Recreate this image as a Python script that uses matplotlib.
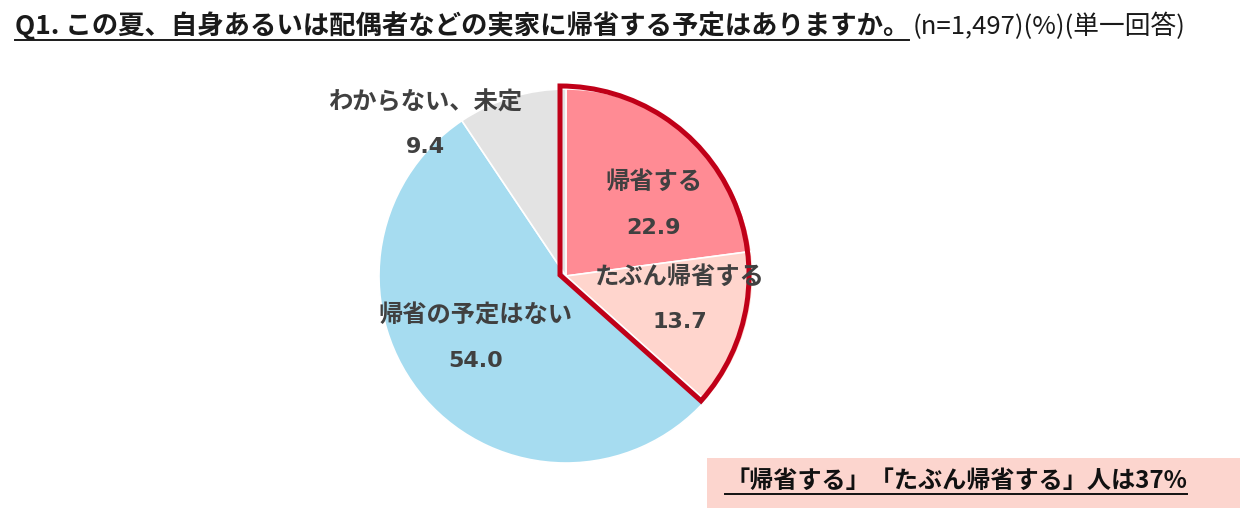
import matplotlib.pyplot as plt
from matplotlib.patches import Wedge, Rectangle

plt.rcParams['font.family'] = ['Noto Sans CJK JP', 'DejaVu Sans']

# Data
labels = ["帰省する", "たぶん帰省する", "帰省の予定はない", "わからない、未定"]
values = [22.9, 13.7, 54.0, 9.4]
colors = ["#FF8B94", "#FFD5CD", "#A6DCF0", "#E3E3E3"]
title_main = "Q1. この夏、自身あるいは配偶者などの実家に帰省する予定はありますか。"
title_sub = "(n=1,497)(%)(単一回答)"
note = "「帰省する」「たぶん帰省する」人は37%"

W, H = 1246, 520
fig = plt.figure(figsize=(W / 100, H / 100), dpi=100)
ax = fig.add_axes([0, 0, 1, 1])

# pie (pixel coords, y measured from top)
cx, cy, r = 566, 276, 187
ax.pie(values, colors=colors, startangle=90, counterclock=False,
       center=(cx, H - cy), radius=r, frame=True,
       wedgeprops=dict(edgecolor="white", linewidth=1.2))
ax.set_xlim(0, W)
ax.set_ylim(0, H)
ax.set_aspect("equal")
ax.axis("off")

# red outline around the two "帰省" slices
span = 360 * (values[0] + values[1]) / sum(values)
ax.add_patch(Wedge((560, H - 275), 189, 90 - span, 90, fill=False,
                   edgecolor="#C00018", linewidth=3.6, joinstyle="miter", zorder=5))

# slice labels
label_pos = [(654, 182, 228), (680, 277, 322), (476, 316, 361), (425, 103, 147)]
for lab, val, (x, y1, y2) in zip(labels, values, label_pos):
    ax.text(x, H - y1, lab, ha="center", va="center", fontsize=17.5, fontweight="bold",
            color="#404040", zorder=6)
    ax.text(x, H - y2, f"{val:.1f}", ha="center", va="center", fontsize=16,
            fontweight="bold", color="#404040", family="DejaVu Sans", zorder=6)

# title
t1 = ax.text(15, H - 26, title_main, ha="left", va="center", fontsize=19,
             fontweight="bold", color="#1a1a1a")
fig.canvas.draw()
bb = t1.get_window_extent().transformed(ax.transData.inverted())
ax.plot([bb.x0, bb.x1], [H - 40, H - 40], color="#1a1a1a", linewidth=1.4)
ax.text(bb.x1 + 3, H - 26, title_sub, ha="left", va="center", fontsize=18.5,
        color="#1a1a1a")

# note box
ax.add_patch(Rectangle((707, H - 508), 533, 50, facecolor="#FCD5CE", edgecolor="none"))
t2 = ax.text(956, H - 481, note, ha="center", va="center", fontsize=17.4,
             fontweight="bold", color="#111111")
fig.canvas.draw()
bb2 = t2.get_window_extent().transformed(ax.transData.inverted())
ax.plot([bb2.x0, bb2.x1], [H - 494, H - 494], color="#111111", linewidth=1.4)

fig.savefig("out.png", dpi=100)
